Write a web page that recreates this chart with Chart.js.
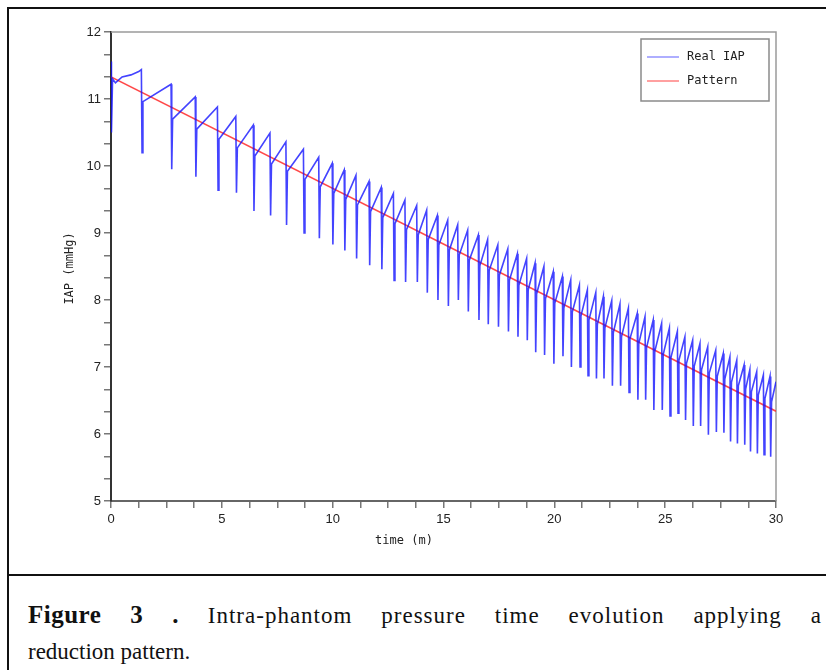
<!DOCTYPE html>
<html>
<head>
<meta charset="utf-8">
<script src="https://cdn.jsdelivr.net/npm/chart.js@4"></script>
<style>
	body { margin: 0; background: #fff; width: 826px; height: 670px; overflow: hidden; position: relative; }
	.rule { position: absolute; background: #111; }
	#chartBox { position: absolute; left: 10px; top: 10px; width: 816px; height: 564px; }
	.cap { position: absolute; left: 28px; width: 794px; font-family: "Liberation Serif", "Times New Roman", serif; font-size: 23px; color: #111; white-space: nowrap; }
	.l1 { top: 601px; text-align: justify; text-align-last: justify; letter-spacing: 1px; white-space: normal; }
	.l1 b { font-size: 25px; letter-spacing: 0.5px; }
	.l2 { top: 639px; }
</style>
</head>
<body>
<div class="rule" style="left:7px;top:7px;width:819px;height:2px"></div>
<div class="rule" style="left:7px;top:7px;width:2px;height:663px"></div>
<div class="rule" style="left:7px;top:574px;width:819px;height:2px"></div>
<div id="chartBox"><canvas id="lineChart" width="816" height="564"></canvas></div>
<div class="cap l1"><b>Figure 3 .</b> Intra-phantom pressure time evolution applying a</div>
<div class="cap l2">reduction pattern.</div>
<script>
// start of the record, before the first regular cycle
const startTimes = [0, 0.01, 0.03, 0.07, 0.2, 0.5, 0.9, 1.25];
const startValues = [11.30, 11.56, 10.50, 11.30, 11.24, 11.33, 11.36, 11.41];

// one entry per pressure release: time of the drop, value just before it,
// bottom of the dip, and the level it comes back to
const dropTimes = [
	1.37, 2.71, 3.80, 4.80, 5.63, 6.42, 7.17, 7.89, 8.68, 9.37,
	9.98, 10.52, 11.05, 11.64, 12.19, 12.74, 13.26, 13.79, 14.24, 14.72,
	15.19, 15.64, 16.09, 16.57, 16.99, 17.45, 17.90, 18.33, 18.75, 19.13,
	19.53, 19.95, 20.36, 20.74, 21.13, 21.49, 21.87, 22.21, 22.59, 22.96,
	23.34, 23.74, 24.09, 24.46, 24.84, 25.19, 25.55, 25.89, 26.24, 26.57,
	26.92, 27.28, 27.62, 27.92, 28.23, 28.56, 28.82, 29.13, 29.43, 29.73
];
const peakValues = [
	11.44, 11.22, 11.03, 10.88, 10.74, 10.61, 10.49, 10.36, 10.25, 10.13,
	10.04, 9.94, 9.86, 9.77, 9.68, 9.59, 9.49, 9.41, 9.34, 9.26,
	9.19, 9.12, 9.04, 8.97, 8.90, 8.82, 8.76, 8.69, 8.62, 8.55,
	8.50, 8.42, 8.35, 8.30, 8.22, 8.15, 8.11, 8.05, 7.99, 7.94,
	7.88, 7.80, 7.75, 7.70, 7.65, 7.58, 7.53, 7.45, 7.40, 7.35,
	7.30, 7.25, 7.20, 7.15, 7.10, 7.03, 6.96, 6.93, 6.88, 6.86
];
const minValues = [
	10.20, 9.95, 9.84, 9.64, 9.60, 9.33, 9.26, 9.12, 9.00, 8.92,
	8.83, 8.74, 8.62, 8.52, 8.46, 8.29, 8.27, 8.27, 8.11, 8.00,
	7.91, 8.00, 7.83, 7.70, 7.64, 7.60, 7.53, 7.45, 7.40, 7.22,
	7.18, 7.05, 7.16, 7.00, 7.00, 6.87, 6.83, 6.83, 6.72, 6.72,
	6.62, 6.51, 6.51, 6.36, 6.36, 6.27, 6.31, 6.21, 6.12, 6.12,
	5.99, 6.03, 6.02, 5.89, 5.86, 5.84, 5.74, 5.71, 5.69, 5.66
];
const recoveryValues = [
	10.96, 10.70, 10.55, 10.40, 10.27, 10.15, 10.03, 9.92, 9.80, 9.69,
	9.59, 9.50, 9.42, 9.32, 9.23, 9.14, 9.05, 8.97, 8.90, 8.82,
	8.74, 8.67, 8.59, 8.51, 8.44, 8.37, 8.29, 8.22, 8.15, 8.09,
	8.02, 7.95, 7.88, 7.82, 7.76, 7.70, 7.63, 7.58, 7.51, 7.45,
	7.42, 7.35, 7.29, 7.23, 7.18, 7.14, 7.10, 7.05, 7.01, 6.96,
	6.91, 6.86, 6.82, 6.77, 6.72, 6.67, 6.63, 6.58, 6.53, 6.48
];
const endTime = 30;
const endValue = 6.78;

// reduction pattern (straight line)
const patternTimes = [0, 30];
const patternValues = [11.33, 6.34];

const xMajorTicks = [0, 5, 10, 15, 20, 25, 30];
const yMajorTicks = [5, 6, 7, 8, 9, 10, 11, 12];

const seriesLabels = ["Real IAP", "Pattern"];
const legendColors = ["#7878ff", "#ff6060"];

const realPoints = [];
startTimes.forEach((t, i) => realPoints.push({ x: t, y: startValues[i] }));
dropTimes.forEach((t, i) => {
	realPoints.push({ x: t, y: peakValues[i] });
	realPoints.push({ x: t + 0.03, y: minValues[i] });
	realPoints.push({ x: t + 0.07, y: recoveryValues[i] });
});
realPoints.push({ x: endTime, y: endValue });

const patternPoints = patternTimes.map((t, i) => ({ x: t, y: patternValues[i] }));

const isMajor = (v, list) => list.some((m) => Math.abs(m - v) < 1e-6);

const frameAndLegend = {
	id: "frameAndLegend",
	beforeDatasetsDraw(chart) {
		const { ctx, chartArea: a } = chart;
		ctx.save();
		ctx.strokeStyle = "#9a9a9a";
		ctx.lineWidth = 1.5;
		ctx.beginPath();
		ctx.moveTo(a.left, a.top);
		ctx.lineTo(a.right, a.top);
		ctx.lineTo(a.right, a.bottom);
		ctx.stroke();
		ctx.restore();
	},
	afterDraw(chart) {
		const { ctx, chartArea: a } = chart;
		ctx.save();
		// axis titles
		ctx.font = "12px 'DejaVu Sans Mono', monospace";
		ctx.fillStyle = "#222";
		ctx.textAlign = "center";
		ctx.textBaseline = "middle";
		ctx.fillText("time (m)", a.left + 293, a.bottom + 40);
		ctx.save();
		ctx.translate(60, (a.top + a.bottom) / 2 + 2);
		ctx.rotate(-Math.PI / 2);
		ctx.fillText("IAP (mmHg)", 0, 0);
		ctx.restore();

		// legend box
		const w = 128, h = 62;
		const x0 = a.right - 7 - w, y0 = a.top + 7;
		ctx.fillStyle = "#fff";
		ctx.fillRect(x0, y0, w, h);
		ctx.strokeStyle = "#8a8a8a";
		ctx.lineWidth = 1.5;
		ctx.strokeRect(x0, y0, w, h);
		ctx.textAlign = "left";
		seriesLabels.forEach((label, i) => {
			const y = y0 + 18 + i * 24;
			ctx.strokeStyle = legendColors[i];
			ctx.lineWidth = 1.2;
			ctx.beginPath();
			ctx.moveTo(x0 + 6, y);
			ctx.lineTo(x0 + 38, y);
			ctx.stroke();
			ctx.fillStyle = "#222";
			ctx.fillText(label, x0 + 46, y);
		});
		ctx.restore();
	}
};

let lineChart;

window.drawLineGraph = () => {
	const ctx = document.getElementById("lineChart");
	const tickFont = { family: "'Liberation Sans', Arial, sans-serif", size: 13 };
	const config = {
		type: "line",
		data: {
			datasets: [
				{
					label: seriesLabels[0],
					data: realPoints,
					borderColor: "rgba(20,20,255,0.8)",
					borderWidth: 1.6,
					pointRadius: 0,
					tension: 0,
					fill: false,
				},
				{
					label: seriesLabels[1],
					data: patternPoints,
					borderColor: "rgba(255,40,40,0.85)",
					borderWidth: 1.6,
					pointRadius: 0,
					fill: false,
				},
			],
		},
		options: {
			responsive: false,
			animation: false,
			layout: { padding: { left: 54, right: 50, top: 22, bottom: 26 } },
			plugins: { legend: { display: false }, tooltip: { enabled: false } },
			scales: {
				x: {
					type: "linear",
					min: 0,
					max: 30,
					afterBuildTicks: (s) => {
						const ticks = [];
						for (let k = 0; k <= 24; k++) ticks.push({ value: k * 1.25 });
						s.ticks = ticks;
					},
					afterFit: (s) => { s.height = 47; },
					grid: { drawOnChartArea: false, drawTicks: true, tickLength: 7, color: "#777", lineWidth: 1.5 },
					border: { color: "#666", width: 2 },
					ticks: {
						autoSkip: false,
						maxRotation: 0,
						padding: 4,
						color: "#222",
						font: tickFont,
						callback: (v) => (isMajor(v, xMajorTicks) ? String(Math.round(v)) : ""),
					},
				},
				y: {
					type: "linear",
					min: 5,
					max: 12,
					afterBuildTicks: (s) => {
						const ticks = [];
						for (let k = 0; k <= 21; k++) ticks.push({ value: 5 + k / 3 });
						s.ticks = ticks;
					},
					afterFit: (s) => { s.width = 47; },
					grid: { drawOnChartArea: false, drawTicks: true, tickLength: 7, color: "#777", lineWidth: 1.5 },
					border: { color: "#333", width: 2 },
					ticks: {
						autoSkip: false,
						padding: 3,
						color: "#222",
						font: tickFont,
						callback: (v) => (isMajor(v, yMajorTicks) ? String(Math.round(v)) : ""),
					},
				},
			},
		},
		plugins: [frameAndLegend],
	};
	lineChart = new Chart(ctx, config);
};

window.drawLineGraph();
</script>
</body>
</html>
